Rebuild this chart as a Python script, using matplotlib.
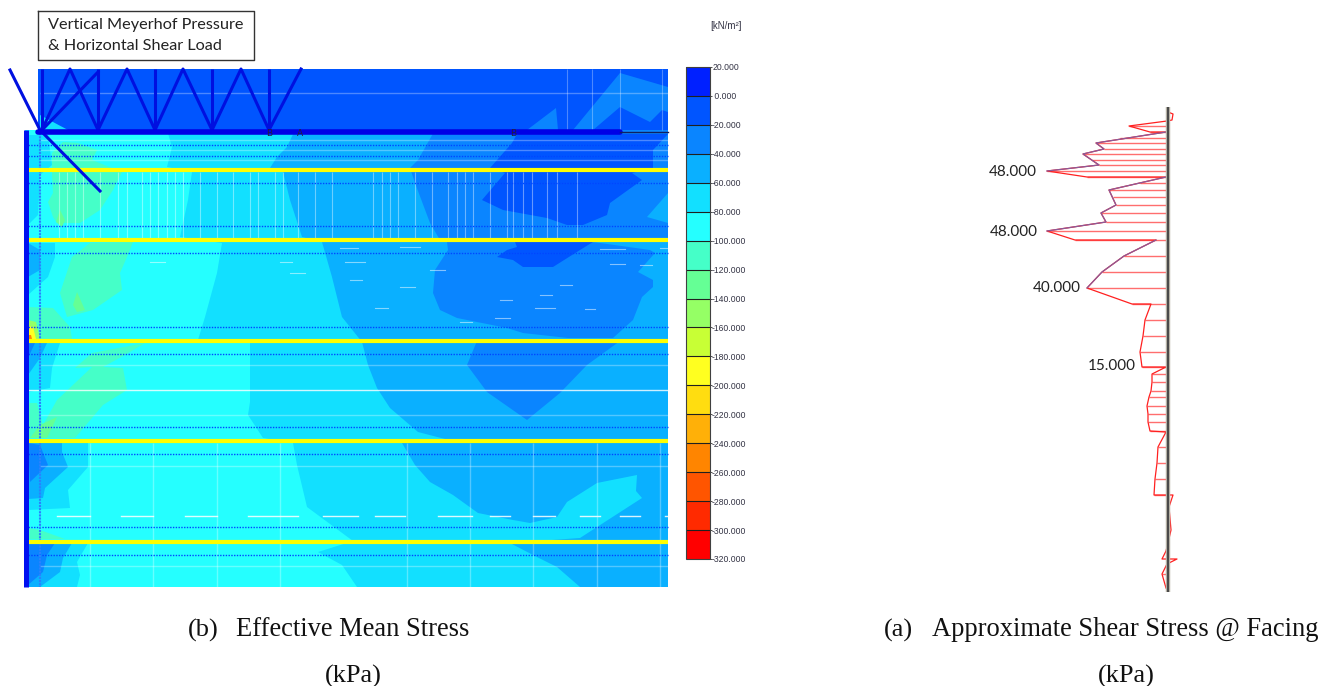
import matplotlib
matplotlib.use('Agg')
from matplotlib import pyplot as plt
from matplotlib.cm import ScalarMappable
from matplotlib.colors import BoundaryNorm, ListedColormap

# colour scale, top to bottom
levels = [20, 0, -20, -40, -60, -80, -100, -120, -140, -160, -180, -200, -220, -240, -260, -280, -300, -320]
level_labels = ['20.000', ' 0.000', '-20.000', '-40.000', '-60.000', '-80.000', '-100.000', '-120.000', '-140.000',
                '-160.000', '-180.000', '-200.000', '-220.000', '-240.000', '-260.000', '-280.000', '-300.000', '-320.000']
level_colors = ['#0020ff', '#0055ff', '#0a85ff', '#0ab0ff', '#12e0ff', '#25ffff', '#45ffc8', '#65ff95', '#95ff65',
                '#c8ff35', '#ffff20', '#ffdd10', '#ffb008', '#ff8500', '#ff5500', '#ff2a00', '#ff0000']

# stress zones: (colour index, outline)
zones = [
    (1, [(38, 69), (668, 69), (668, 130), (38, 130)]),
    (2, [(527, 130), (556, 108), (558, 130)]),
    (2, [(573, 130), (620, 73), (668, 87), (668, 112), (662, 110), (650, 122), (620, 107), (593, 130)]),
    (5, [(25, 130), (668, 130), (668, 587), (25, 587)]),
    (4, [(167, 130), (172, 147), (167, 167), (192, 172), (188, 200), (180, 237), (222, 243), (217, 273), (205, 317),
         (198, 340), (250, 343), (250, 402), (248, 415), (263, 438), (293, 443), (297, 465), (307, 507), (353, 541),
         (318, 552), (342, 565), (357, 587), (668, 587), (668, 130)]),
    (3, [(295, 130), (287, 147), (277, 157), (270, 168), (283, 172), (290, 200), (302, 237), (322, 242), (332, 277),
         (342, 317), (362, 342), (368, 365), (377, 388), (390, 408), (418, 432), (445, 439), (402, 443), (415, 465),
         (430, 482), (453, 495), (478, 513), (513, 520), (530, 523), (557, 517), (567, 502), (597, 483), (637, 475),
         (636, 491), (642, 498), (580, 538), (510, 543), (533, 555), (557, 567), (580, 587), (668, 587), (668, 130)]),
    (2, [(435, 130), (418, 160), (410, 168), (415, 183), (430, 223), (440, 240), (668, 240), (668, 130)]),
    (3, [(668, 193), (647, 217), (668, 223)]),
    (2, [(447, 242), (448, 250), (435, 270), (433, 293), (440, 310), (457, 318), (507, 328), (523, 333), (568, 338),
         (613, 338), (633, 320), (642, 297), (653, 287), (653, 280), (638, 272), (655, 253), (650, 250), (593, 242)]),
    (2, [(477, 341), (467, 365), (487, 392), (527, 420), (560, 393), (587, 365), (620, 341)]),
    (1, [(517, 134), (668, 134), (653, 150), (653, 168), (632, 173), (642, 180), (610, 203), (607, 215), (583, 225),
         (567, 225), (547, 218), (503, 210), (482, 200), (505, 173), (490, 168), (512, 143)]),
    (1, [(515, 242), (593, 242), (580, 250), (553, 267), (523, 267), (513, 260), (497, 257), (507, 250), (517, 247)]),
    (4, [(40, 115), (53, 122), (68, 130), (40, 130)]),
    (6, [(52, 153), (63, 142), (78, 143), (97, 150), (92, 160), (122, 172), (113, 190), (100, 210), (80, 223), (57, 223),
         (53, 217), (48, 202), (53, 193), (52, 173)]),
    (7, [(56, 222), (60, 210), (65, 220), (62, 227)]),
    (6, [(133, 242), (127, 257), (120, 273), (122, 290), (93, 310), (67, 317), (60, 293), (72, 257), (90, 243)]),
    (7, [(77, 292), (85, 310), (77, 312), (73, 305)]),
    (6, [(145, 343), (92, 353), (75, 368), (92, 367), (57, 400), (43, 425), (37, 403), (28, 403), (28, 438), (75, 438),
         (103, 405), (127, 390), (123, 368), (103, 367), (125, 355)]),
    (7, [(40, 425), (57, 417), (47, 438), (30, 438)]),
    (6, [(28, 307), (53, 308), (70, 327), (72, 339), (28, 339)]),
    (8, [(28, 320), (36, 322), (40, 339), (28, 339)]),
    (10, [(28, 326), (33, 327), (36, 339), (28, 339)]),
    (13, [(28, 335), (31, 335), (32, 339), (28, 339)]),
    (4, [(28, 135), (48, 135), (52, 165), (40, 175), (38, 215), (28, 225)]),
    (4, [(28, 243), (55, 243), (55, 257), (48, 277), (28, 295)]),
    (3, [(28, 243), (40, 250), (40, 270), (28, 277)]),
    (4, [(28, 343), (60, 343), (52, 368), (50, 388), (28, 392)]),
    (3, [(28, 343), (47, 343), (40, 358), (28, 375)]),
    (2, [(28, 343), (35, 343), (28, 358)]),
    (4, [(28, 443), (88, 443), (88, 467), (68, 490), (70, 508), (28, 510)]),
    (3, [(28, 443), (62, 443), (62, 452), (68, 467), (45, 488), (43, 498), (28, 499)]),
    (2, [(28, 443), (40, 445), (48, 465), (30, 482)]),
    (6, [(28, 528), (40, 530), (65, 539), (28, 539)]),
    (4, [(28, 543), (88, 543), (77, 562), (80, 575), (77, 587), (28, 587)]),
    (3, [(28, 543), (72, 543), (63, 558), (60, 572), (40, 587), (28, 587)]),
    (2, [(28, 543), (55, 543), (47, 555), (43, 572), (28, 585)]),
]

# structure in the soil body
yellow_y = [169.5, 239.5, 340.5, 441, 541.5]
dotted_y = [145, 156, 183, 226, 253, 327, 354, 427, 454, 527, 555]
white_y_bright = [390]
white_y_faint = [140, 150, 160, 93, 365, 415, 466, 566]
white_x_mid = [59, 67, 75, 83, 100, 118, 127, 142, 150, 158, 167, 175, 183, 200, 217, 233, 250, 258, 275, 283, 298, 315, 332,
               373, 382, 390, 398, 415, 432, 448, 457, 465, 473, 490, 507, 513, 523, 532, 547, 557, 577]
white_x_low = [90, 153, 217, 280, 407, 470, 533, 597, 660]
white_x_top = [567, 592, 620, 662]
dash_y516 = [(57, 90), (121, 153), (185, 217), (248, 298), (323, 358), (375, 405), (438, 472), (490, 510), (533, 555), (580, 600), (620, 640), (665, 668)]
specks = [(340, 358, 248), (400, 420, 247), (600, 625, 249), (660, 668, 248), (345, 365, 262), (430, 445, 270), (500, 512, 300),
          (540, 552, 295), (610, 625, 264), (535, 555, 308), (585, 595, 309), (375, 388, 308), (400, 415, 287), (460, 472, 322),
          (495, 510, 318), (350, 362, 280), (560, 572, 285), (640, 652, 265), (150, 165, 262), (280, 292, 262), (290, 305, 273)]

# truss of load vectors
truss_x = [42, 70, 98, 127, 155, 183, 212, 241, 269, 301]
truss_y = [130, 69, 130, 69, 130, 69, 130, 69, 130, 69]
post_x = [42, 98, 155, 212, 269]
brace_x = [42, 98]
brace_y = [130, 72]
strut_x = [10, 40, 100]
strut_y = [70, 130, 191]

# shear stress at the facing
wall_x = 1168
shear_x = [1168, 1173, 1172, 1167, 1129, 1150, 1166, 1096, 1104, 1083, 1099, 1047, 1087, 1166, 1109, 1116, 1101, 1106,
           1047, 1075, 1156, 1124, 1102, 1087, 1132, 1151, 1145, 1143, 1140, 1142, 1166, 1152, 1152, 1151, 1149, 1147, 1148,
           1148, 1150, 1166, 1158, 1157, 1155, 1154, 1173, 1169, 1171, 1168, 1166, 1162, 1177, 1167, 1162, 1166]
shear_y = [112, 114, 120, 121, 126, 132, 132, 143, 149, 154, 165, 171, 177, 177, 190, 205, 213, 222,
           231, 240, 240, 256, 272, 288, 304, 304, 320, 336, 352, 367, 367, 374, 382, 391, 397, 406, 414,
           422, 431, 432, 447, 463, 479, 495, 495, 507, 530, 543, 551, 559, 559, 564, 574, 588]
hatch_y = [121, 126, 132, 138, 143, 149, 154, 160, 165, 171, 177, 183, 190, 197, 205, 213, 222, 231, 240, 256, 272, 288, 304, 320, 336,
           352, 367, 374, 382, 391, 397, 406, 414, 422, 431, 447, 463, 479, 495, 574]
hatch_x = [1167, 1129, 1150, 1120, 1096, 1104, 1083, 1092, 1099, 1047, 1087, 1140, 1109, 1113, 1116, 1101, 1106, 1047, 1075, 1124, 1102, 1087, 1132, 1145, 1143,
           1140, 1142, 1152, 1152, 1151, 1149, 1147, 1148, 1148, 1150, 1158, 1157, 1155, 1154, 1162]
peak_labels = ['48.000', '48.000', '40.000', '15.000']
peak_x = [1037, 1038, 1081, 1136]
peak_y = [172, 232, 288, 366]

fig = plt.figure(figsize=(13.25, 6.86), dpi=100)
ax = fig.add_axes([0, 0, 1, 1])
ax.set_xlim(0, 1325)
ax.set_ylim(686, 0)
ax.axis('off')

for idx, outline in zones:
    xs = [p[0] for p in outline]
    ys = [p[1] for p in outline]
    ax.fill(xs, ys, color=level_colors[idx], lw=0, zorder=1)

# white mesh lines
ax.vlines(white_x_mid, 172, 238, color='white', lw=0.8, alpha=0.4, zorder=2)
ax.vlines(white_x_low, 443, 587, color='white', lw=1, alpha=0.3, zorder=2)
ax.vlines(white_x_top, 69, 130, color='white', lw=0.8, alpha=0.3, zorder=2)
ax.hlines(white_y_bright, 28, 668, color='white', lw=1, alpha=0.8, zorder=2)
ax.hlines(white_y_faint, 40, 668, color='white', lw=1, alpha=0.3, zorder=2)
for x0, x1 in dash_y516:
    ax.plot([x0, x1], [516, 516], color='white', lw=1, alpha=0.85, zorder=2)
for x0, x1, y in specks:
    ax.plot([x0, x1], [y, y], color='white', lw=0.8, alpha=0.5, zorder=2)

ax.hlines(dotted_y, 28, 668, color='#0046ff', lw=1, linestyles=(0, (1, 1)), zorder=3)
ax.vlines([40], 130, 587, color='#2a80ff', lw=1.5, linestyles=(0, (1, 0.5)), zorder=3)
ax.hlines(yellow_y, 25, 668, color='#ffff00', lw=3, zorder=4)
ax.vlines([25.5], 130, 587, color='#0010f0', lw=3.6, zorder=5)

# load vectors
blue = '#0010e0'
ax.plot(truss_x, truss_y, color=blue, lw=2.2, zorder=6)
ax.vlines(post_x, 69, 130, color=blue, lw=2.2, zorder=6)
ax.plot(brace_x, brace_y, color=blue, lw=2.2, zorder=6)
ax.plot(strut_x, strut_y, color=blue, lw=2.2, zorder=6)
ax.plot([38, 620], [132, 132], color='#0000e6', lw=4, solid_capstyle='round', zorder=6)
ax.plot([620, 668], [132, 132], color='#102060', lw=1, zorder=6)
for x, s in zip([269, 300, 513], ['B', 'A', 'B']):
    ax.text(x, 133, s, fontsize=6.5, ha='center', va='center', color='#202040', zorder=7)

ax.text(48, 25, 'Vertical Meyerhof Pressure', fontsize=11.7, family='Lato', color='#222222', ha='left', va='center', zorder=8)
ax.text(48, 46, '& Horizontal Shear Load', fontsize=11.7, family='Lato', color='#222222', ha='left', va='center', zorder=8)
ax.plot([37.5, 253.5, 253.5, 37.5, 37.5], [10.5, 10.5, 59.5, 59.5, 10.5], color='#333333', lw=1, zorder=8)

# colour bar
cax = fig.add_axes([686 / 1325, 1 - 559 / 686, 24 / 1325, 492 / 686])
cmap = ListedColormap(level_colors[::-1])
norm = BoundaryNorm(levels[::-1], cmap.N)
cbar = fig.colorbar(ScalarMappable(norm=norm, cmap=cmap), cax=cax, ticks=levels[::-1], spacing='uniform', drawedges=True)
cbar.dividers.set_color('#202020')
cbar.dividers.set_linewidth(0.8)
cbar.outline.set_edgecolor('#404040')
cbar.ax.set_yticklabels(level_labels[::-1], fontsize=6.2, family='Liberation Sans', color='#333344')
cbar.ax.tick_params(length=1.5, width=0.6, pad=0, color='#333333')
ax.text(726, 26, '[kN/m²]', fontsize=7, family='Liberation Sans', color='#333344', ha='center', va='center')

# right panel
ax.hlines(hatch_y, hatch_x, wall_x, color='#ff2020', lw=1, alpha=0.65, zorder=2)
ax.plot(shear_x, shear_y, color='#ff2020', lw=0.9, zorder=3)
ax.plot(shear_x[6:12], shear_y[6:12], color='#8a5a9a', lw=0.9, zorder=3)
ax.plot(shear_x[13:19], shear_y[13:19], color='#8a5a9a', lw=0.9, zorder=3)
ax.plot(shear_x[20:24], shear_y[20:24], color='#8a5a9a', lw=0.9, zorder=3)
ax.vlines([wall_x], 107, 592, color='#b8b4a8', lw=3.2, zorder=4)
ax.vlines([wall_x], 107, 592, color='#4a4a4a', lw=1.5, zorder=5)
for s, x, y in zip(peak_labels, peak_x, peak_y):
    ax.text(x, y, s, fontsize=11, family='Lato', color='#222222', ha='right', va='center', zorder=6)

# captions
ax.text(188, 630, '(b)', fontsize=19, family='Liberation Serif', color='#111111', va='center')
ax.text(236, 630, 'Effective Mean Stress', fontsize=19.1, family='Liberation Serif', color='#111111', va='center')
ax.text(353, 676, '(kPa)', fontsize=19, family='Liberation Serif', color='#111111', ha='center', va='center')
ax.text(884, 630, '(a)', fontsize=19, family='Liberation Serif', color='#111111', va='center')
ax.text(932, 630, 'Approximate Shear Stress @ Facing', fontsize=19.1, family='Liberation Serif', color='#111111', va='center')
ax.text(1126, 676, '(kPa)', fontsize=19, family='Liberation Serif', color='#111111', ha='center', va='center')

fig.savefig('out.png', dpi=100)
